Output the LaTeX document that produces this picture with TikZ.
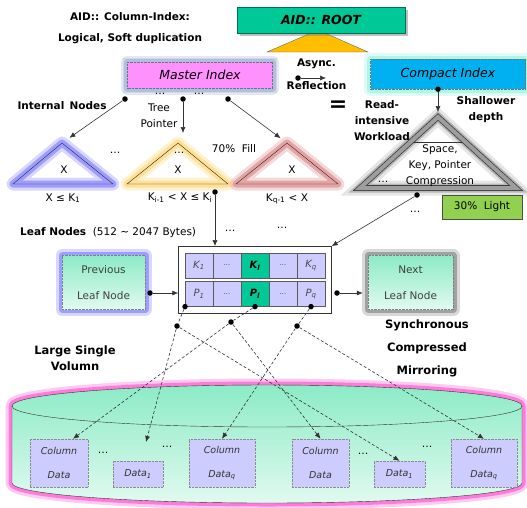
\documentclass[tikz,border=0pt]{standalone}
\usepackage{fontspec}
\setmainfont{DejaVu Sans}
\usepackage{tikz}
\usetikzlibrary{positioning,arrows.meta,calc,fit,shadows}
\definecolor{rootgreen}{RGB}{0,200,150}
\definecolor{rootorange}{RGB}{255,190,0}
\definecolor{masterpink}{RGB}{255,145,255}
\definecolor{compactblue}{RGB}{0,176,240}
\definecolor{cellblue}{RGB}{204,204,255}
\definecolor{mintdark}{RGB}{140,235,198}
\definecolor{mintlight}{RGB}{225,250,240}
\definecolor{lightgreen}{RGB}{146,208,80}
\definecolor{glowblue}{RGB}{110,110,255}
\definecolor{glowyellow}{RGB}{255,210,100}
\definecolor{glowred}{RGB}{215,120,120}
\definecolor{glowpink}{RGB}{255,60,200}
\definecolor{glowcyan}{RGB}{140,240,220}
\definecolor{glowlav}{RGB}{160,160,245}
\definecolor{glowgreen}{RGB}{190,245,150}

\begin{document}
\begin{tikzpicture}[x=1pt,y=-1pt,
  txt/.style={font=\fontsize{10.5}{#1}\selectfont, align=center, inner sep=0pt},
  txt/.default=16,
  tag/.style={font=\fontsize{10.5}{#1}\selectfont\bfseries, align=center, inner sep=0pt},
  tag/.default=16,
  bigtag/.style={font=\fontsize{11.5}{#1}\selectfont\bfseries, align=center, inner sep=0pt},
  bigtag/.default=23,
  glow/.style={preaction={draw=#1, line width=13pt, opacity=.28, solid, line join=round},
               preaction={draw=#1, line width=7pt, opacity=.55, solid, line join=round}},
  pin/.style={circle, fill=black, inner sep=0pt, minimum size=5.5pt},
  ptr/.style={-{Latex[length=6pt,width=5pt]}, black!80, semithick},
  mirrorptr/.style={ptr, densely dashed},
  idxbox/.style={draw=black!55, densely dotted, minimum height=26pt, inner sep=0pt,
                 font=\fontsize{12.5}{14}\selectfont\itshape},
  cell/.style={draw=black!65, fill=cellblue, minimum width=27.6pt, minimum height=25pt,
               inner sep=0pt, text=black!70, font=\fontsize{10}{12}\selectfont\itshape},
  hot/.style={cell, fill=rootgreen, text=black},
  leafbox/.style={draw=black!50, densely dotted, top color=mintdark, bottom color=mintlight,
                  minimum height=54pt, inner sep=0pt, align=center,
                  text=black!75, font=\fontsize{10.5}{26}\selectfont},
  coldata/.style={draw=black!45, densely dotted, fill=cellblue, inner sep=0pt, align=center,
                  text=black!80, font=\fontsize{9.5}{24}\selectfont\itshape},
  tri/.style={draw=black!85, line join=miter}
]
\useasboundingbox (0,0) rectangle (527,507);

% the volume
\path[top color=mintdark, bottom color=mintlight, draw=black!80, glow=glowpink]
  (12,406) -- (12,483) .. controls (12,494) and (126,503) .. (267,503)
  .. controls (408,503) and (522,494) .. (522,483) -- (522,406)
  .. controls (522,394.4) and (408,385) .. (267,385)
  .. controls (126,385) and (12,394.4) .. (12,406) -- cycle;
\draw[black!80] (12,406) .. controls (12,417.6) and (126,427) .. (267,427)
  .. controls (408,427) and (522,417.6) .. (522,406);

% title and root
\node[tag=21] (title) at (130,28.5) {AID:: Column-Index:\\Logical, Soft duplication};
\fill[rootorange, draw=black!60] (267,52) -- (318,30) -- (368,52) -- cycle;
\node[fill=rootgreen, draw=rootgreen!55!black, minimum width=168pt, minimum height=26pt,
  font=\fontsize{12.5}{14}\selectfont\bfseries\itshape, drop shadow] (root) at (321,20) {AID:: ROOT};

% master and compact index
\node[idxbox, preaction={draw=glowgreen, line width=9pt, opacity=.6, solid, yshift=-3pt},
  glow=glowlav, fill=masterpink, minimum width=145pt] (master) at (200,75) {Master Index};
\node[idxbox, glow=glowcyan, fill=compactblue, minimum width=155pt, minimum height=30pt] (compact) at (448,74) {Compact Index};

\node[tag=23] (async) at (316.5,74.5) {Async.\\Reflection};
\node[pin] (ad) at (298,78) {};
\coordinate (ae) at (326,78);
\draw[ptr] (ad) -- (ae);
\node[font=\fontsize{22}{24}\selectfont\bfseries, inner sep=0pt] (eq) at (338,106) {=};

% internal nodes
\node[tag] (internal) at (62,106) {Internal\enspace Nodes};
\node[txt] (tree) at (159,115.5) {Tree\\Pointer};
\node[pin] (md1) at (125,99) {};
\node[pin] (md2) at (183,99) {};
\node[pin] (md3) at (228,99) {};
\node[txt] at (160,94) {\dots};
\node[txt] at (199,94) {\dots};

\coordinate (tb) at (62,143);
\coordinate (ty) at (178,143);
\coordinate (tr) at (287,143);
\draw[tri, glow=glowblue] (tb) -- (113,184) -- (13,184) -- cycle;
\draw[tri, glow=glowyellow] (ty) -- (228,184) -- (127,184) -- cycle;
\draw[tri, glow=glowred] (tr) -- (338,184) -- (236,184) -- cycle;
\draw[ptr, shorten >=9pt] (md1) -- (tb);
\draw[ptr, shorten >=10pt] (md2) -- (md2 |- ty);
\draw[ptr, shorten >=8pt] (md3) -- (tr);

\node[txt] at (64,170) {X};
\node[txt] at (178,170) {X};
\node[txt] at (292,170) {X};
\node[txt] at (179,153) {\dots};
\node[txt] at (115,153) {\dots};
\node[txt] at (234,149) {70\%~~Fill};
\node[txt] at (63,198) {X ≤ K\textsubscript{1}};
\node[txt] at (180,198) {K\textsubscript{i-1} < X ≤ K\textsubscript{i}};
\node[txt] at (287,199) {K\textsubscript{q-1} < X};

% compact tree
\node[tag] (read) at (382,121) {Read-\\intensive\\Workload};
\node[tag] (shallow) at (486,110) {Shallower\\depth};
\coordinate (tg) at (438,117);
\draw[line join=miter, draw=black!75, double=black!38, double distance=4pt, line width=.8pt,
  preaction={draw=black, line width=15pt, opacity=.1, line join=miter},
  preaction={draw=black, line width=9pt, opacity=.2, line join=miter}]
  (tg) -- (516,188) -- (360,188) -- cycle;
\draw[black!80] (414,142) -- (462,142);
\node[txt] (comp) at (440,166) {Space,\\Key, Pointer\\Compression};
\node[txt] at (383,182) {\dots};
\node[pin] (cd) at ([xshift=-10pt]compact.south) {};
\draw[ptr, shorten >=5pt] (cd) -- (cd |- tg);
\node[txt, draw=black!70, fill=lightgreen, minimum width=80pt, minimum height=24pt] (light) at (482,207) {30\%~~Light};

% leaf node
\node[cell] (k1) at (199,265.5) {K\textsubscript{1}};
\node[cell, right=0pt of k1] (k2) {\scriptsize\dots};
\node[hot, right=0pt of k2] (k3) {\textbf{K\textsubscript{l}}};
\node[cell, right=0pt of k3] (k4) {\scriptsize\dots};
\node[cell, right=0pt of k4] (k5) {K\textsubscript{q}};
\node[cell, below=3pt of k1] (p1) {P\textsubscript{1}};
\node[cell, right=0pt of p1] (p2) {\scriptsize\dots};
\node[hot, right=0pt of p2] (p3) {\textbf{P\textsubscript{l}}};
\node[cell, right=0pt of p3] (p4) {\scriptsize\dots};
\node[cell, right=0pt of p4] (p5) {P\textsubscript{q}};
\node[draw=black!80, fit=(k1)(p5), inner sep=6.5pt] (leaf) {};

\node[txt, anchor=west] (leaflbl) at (20,233) {\textbf{Leaf Nodes}~~(512 \textasciitilde{} 2047 Bytes)};
\node[txt] at (230,231) {\dots};
\node[txt] at (282,228) {\dots};
\node[txt] at (415,212) {\dots};
\node[pin] (yd) at (215,192) {};
\draw[ptr] (yd) -- (yd |- leaf.north);
\node[pin] (gd) at (417,195) {};
\draw[ptr] (gd) -- (leaf.north east);

\node[leafbox, glow=glowblue, minimum width=83pt] (prev) at (103.5,282.5) {Previous\\Leaf Node};
\node[leafbox, glow=black!55, minimum width=85pt] (next) at (410.5,282.5) {Next\\Leaf Node};
\node[pin] (pd) at (150,293) {};
\node[pin] (nd) at (337,293) {};
\draw[ptr] (pd) -- (pd -| leaf.west);
\draw[ptr, shorten >=5pt] (nd) -- (nd -| next.west);

\node[bigtag] (sync) at (427,348) {Synchronous\\Compressed\\Mirroring};
\node[bigtag=16] (volume) at (75,358.5) {Large Single\\Volumn};

% column data
\node[coldata, minimum width=58pt, minimum height=48pt] (cd1) at (59,463) {Column\\Data};
\node[coldata, minimum width=50pt, minimum height=26pt] (cd2) at (138,474) {Data\textsubscript{1}};
\node[coldata, minimum width=66pt, minimum height=48pt] (cd3) at (222,463) {Column\\Data\textsubscript{q}};
\node[coldata, minimum width=57pt, minimum height=48pt] (cd4) at (320.5,463) {Column\\Data};
\node[coldata, minimum width=51pt, minimum height=26pt] (cd5) at (399.5,474) {Data\textsubscript{1}};
\node[coldata, minimum width=66pt, minimum height=48pt] (cd6) at (484,463) {Column\\Data\textsubscript{q}};
\node[txt] at (103,453) {\dots};
\node[txt] at (167,447) {\dots};
\node[txt] at (363,454) {\dots};
\node[txt] at (427,447) {\dots};

% mirroring pointers
\node[pin] (l1) at (p1.south west) {};
\node[pin] (l2) at (p3.south) {};
\node[pin] (l3) at (p5.south) {};
\node[pin] (q1) at (177,326) {};
\node[pin] (q2) at (231,322) {};
\node[pin] (q3) at (297,326) {};
\draw[densely dashed, black!80, semithick] (l1) -- (q1) (l2) -- (q2) (l3) -- (q3);
\coordinate (gap) at (146,442);
\draw[mirrorptr] (q1) -- (gap);
\draw[mirrorptr] (q1) -- (cd5.north);
\draw[mirrorptr] (q2) -- (cd1.60);
\draw[mirrorptr] (q2) -- (cd4.north);
\draw[mirrorptr] (q3) -- (cd3.north);
\draw[mirrorptr] (q3) -- (cd6.north);
\end{tikzpicture}
\end{document}
